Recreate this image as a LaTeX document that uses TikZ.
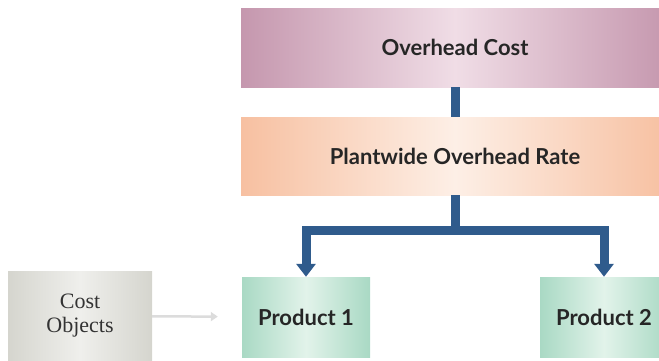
\documentclass[tikz,border=0pt]{standalone}
\usepackage{fontspec}
\setmainfont{Lato}
\newfontfamily\serifface{Liberation Serif}
\usepackage{tikz}
\usetikzlibrary{arrows.meta, calc}

\definecolor{costedge}{HTML}{C597AE}
\definecolor{costmid}{HTML}{F0DDE6}
\definecolor{rateedge}{HTML}{F7C0A1}
\definecolor{ratemid}{HTML}{FDEFE6}
\definecolor{prodedge}{HTML}{A9D9C4}
\definecolor{prodmid}{HTML}{E2F3EA}
\definecolor{objedge}{HTML}{D5D5CE}
\definecolor{objmid}{HTML}{EFEFEC}
\definecolor{flowblue}{HTML}{2F5B8C}
\definecolor{faint}{HTML}{DCDCDC}

\begin{document}
\begin{tikzpicture}[x=1pt, y=-1pt,
    box/.style={rectangle, inner sep=0pt, font=\bfseries\fontsize{22}{26}\selectfont, text=black!85},
    flow/.style={draw=flowblue, line width=9pt, line join=miter},
    pointer/.style={draw=faint, line width=2.5pt, -{Triangle[width=9pt,length=7pt]}, shorten >=24pt}]
        \useasboundingbox (0,0) rectangle (659,360);

        % 위쪽 두 줄 상자
        \node[box, minimum width=428pt, minimum height=79pt,
              left color=costedge, right color=costedge, middle color=costmid] (cost) at (455, 47.5) {Overhead Cost};
        \node[box, minimum width=428pt, minimum height=78pt,
              left color=rateedge, right color=rateedge, middle color=ratemid] (rate) at (455, 156) {Plantwide Overhead Rate};

        % 제품 상자
        \node[box, minimum width=128pt, minimum height=80pt,
              left color=prodedge, right color=prodedge, middle color=prodmid] (p1) at (306, 317) {Product 1};
        \node[box, minimum width=128pt, minimum height=80pt,
              left color=prodedge, right color=prodedge, middle color=prodmid] (p2) at (604, 317) {Product 2};

        % 원가대상
        \node[rectangle, minimum width=144pt, minimum height=90pt, align=center,
              font=\serifface\fontsize{22}{24}\selectfont, text=black!80,
              left color=objedge, right color=objedge, middle color=objmid] (objects) at (80, 316) {Cost\\Objects};

        % 연결선
        \draw[flow] (cost) -- (rate);
        \draw[flow, -{Triangle[width=19pt,length=13pt]}] (rate.south) -- ++(0,35) -| (p1.north);
        \draw[flow, -{Triangle[width=19pt,length=13pt]}] (rate.south) -- ++(0,35) -| (p2.north);
        \draw[pointer] (objects) -- (p1);
    \end{tikzpicture}
\end{document}
